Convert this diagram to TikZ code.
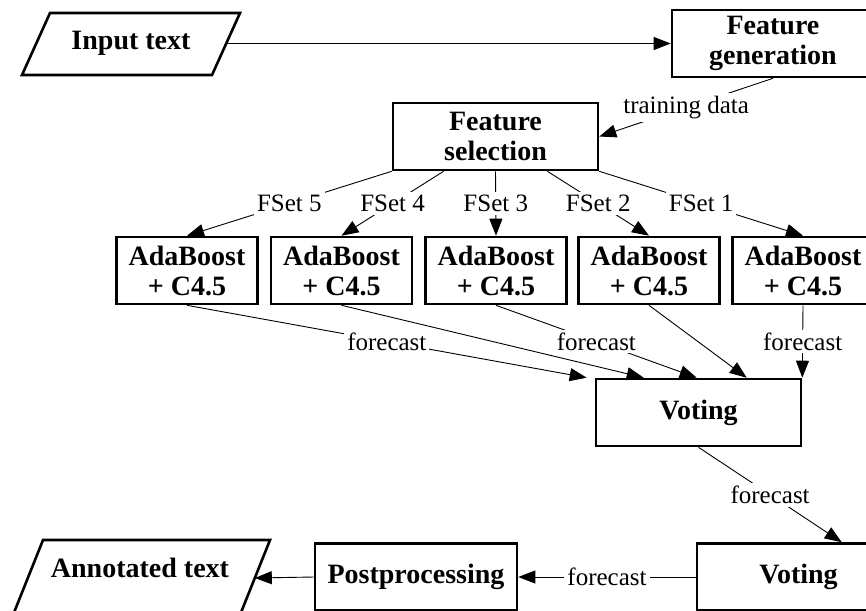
\documentclass[tikz,border=0pt]{standalone}
\usepackage{fontspec}
\setmainfont{Liberation Serif}
\usetikzlibrary{arrows.meta,calc}
\newcommand\myboxfont{\bfseries\fontsize{28}{30}\selectfont}
\newcommand\mylblfont{\fontsize{25}{27}\selectfont}
\begin{document}
\begin{tikzpicture}[x=1pt,y=-1pt,
  box/.style={draw,line width=2.6pt,inner sep=0pt,minimum height=67pt,align=center,font=\myboxfont},
  bigbox/.style={box,minimum width=204pt},
  abox/.style={box,minimum width=141pt},
  shapeline/.style={draw,line width=2.6pt,line join=miter},
  conn/.style={line width=0.9pt,-{Triangle[length=17pt,width=13pt]}},
  lbl/.style={fill=white,inner sep=3pt,font=\mylblfont},
  txt/.style={inner sep=0pt,font=\myboxfont}]
\useasboundingbox (0,0) rectangle (866,610);
\clip (0,0) rectangle (866,610);
\fill[white] (0,0) rectangle (866,610);

% input parallelogram
\draw[shapeline] (50,13) -- (240,13) -- (212,75) -- (22,75) -- cycle;
\node[txt] (IN) at (131,43) {Input text};
\coordinate (INr) at (226.5,43.5);

% annotated parallelogram
\draw[shapeline] (43,540) -- (270,540) -- (238,620) -- (11,620) -- cycle;
\node[txt] (AN) at (140,568) {Annotated text};
\coordinate (ANr) at (254.8,578);

% boxes
\node[bigbox,minimum width=202pt] (FG) at (773,43.5) {Feature\\generation};
\node[bigbox,minimum width=205pt] (FS) at (495.5,136.5) {Feature\\selection};
\node[abox] (A1) at (187,270.5) {AdaBoost\\+ C4.5};
\node[abox] (A2) at (341.5,270.5) {AdaBoost\\+ C4.5};
\node[abox] (A3) at (496,270.5) {AdaBoost\\+ C4.5};
\node[abox] (A4) at (649,270.5) {AdaBoost\\+ C4.5};
\node[abox] (A5) at (803,270.5) {AdaBoost\\+ C4.5};
\node[bigbox,minimum width=205pt] (V1) at (698.5,412.5) {Voting};
\node[bigbox,minimum width=203pt] (V2) at (798.5,577) {Voting};
\node[bigbox,minimum width=202pt] (PP) at (416,577) {Postprocessing};

% anchor points
\coordinate (f4) at ($(FS.south west)!0.25!(FS.south east)$);
\coordinate (f2) at ($(FS.south west)!0.75!(FS.south east)$);
\coordinate (t1) at ($(V1.north west)+(-8,0)$);
\coordinate (t2) at ($(V1.north west)+(49,0)$);
\coordinate (t3) at ($(V1.north west)+(102,0)$);
\coordinate (t4) at ($(V1.north west)+(152,0)$);
\coordinate (t6) at ($(V2.north west)+(146,0)$);

% connectors
\draw[conn] (INr) -- (FG.west);
\draw[conn] (FG.south) -- node[lbl]{training data} (FS.east);
\draw[conn] (FS.south west) -- node[lbl]{FSet 5} (A1.north);
\draw[conn] (f4) -- node[lbl]{FSet 4} (A2.north);
\draw[conn] (FS.south) -- node[lbl]{FSet 3} (A3.north);
\draw[conn] (f2) -- node[lbl]{FSet 2} (A4.north);
\draw[conn] (FS.south east) -- node[lbl]{FSet 1} (A5.north);
\draw[conn] (A2.south) -- (t2);
\draw[conn] (A4.south) -- (t4);
\draw[conn] (A1.south) -- node[lbl]{forecast} (t1);
\draw[conn] (A3.south) -- node[lbl]{forecast} (t3);
\draw[conn] (A5.south) -- node[lbl]{forecast} (V1.north east);
\draw[conn] (V1.south) -- node[lbl]{forecast} (t6);
\draw[conn] (V2.west) -- node[lbl]{forecast} (PP.east);
\draw[conn] (PP.west) -- (ANr);
\end{tikzpicture}
\end{document}
